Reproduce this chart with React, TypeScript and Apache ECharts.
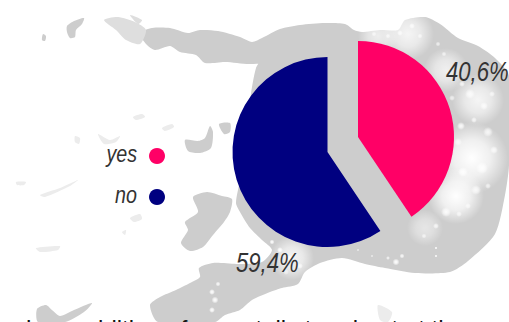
import React, { useEffect, useRef } from "react";
import * as echarts from "echarts";

const categories = ["yes", "no"];
const shares = [40.6, 59.4];
const sliceColors = ["#ff0066", "#000080"];
const footerText = "how addition of more tells to advert at the";

const mapGrey = "#cdcdcd";

type Pt = [number, number];
type Blob = [number, number, number, number];

// Backdrop map: solid land areas.
const land: Pt[][] = [
  // far north-west island
  [[67, 26], [74, 21], [84, 18], [82, 24], [76, 30], [75, 37], [70, 38], [67, 32]],
  [[43, 34], [46, 36], [45, 41], [42, 40]],
  // northern coast running into the main mass
  [[140, 33], [152, 28], [170, 28], [188, 33], [200, 30], [218, 31], [240, 37], [252, 42], [262, 38], [280, 29], [300, 25], [325, 23], [345, 24], [354, 30], [362, 32], [380, 30], [398, 30], [405, 20], [425, 17], [440, 24], [458, 38], [478, 46], [495, 58], [509, 76], [509, 165], [505, 195], [495, 234], [468, 261], [450, 272], [415, 273], [385, 268], [365, 264], [342, 258], [320, 263], [305, 272], [298, 284], [282, 288], [270, 292], [252, 300], [240, 310], [225, 315], [215, 322], [158, 322], [150, 305], [160, 297], [176, 290], [190, 283], [200, 277], [199, 268], [213, 263], [237, 264], [262, 262], [272, 250], [262, 240], [250, 228], [240, 212], [236, 203], [240, 180], [245, 140], [250, 100], [256, 68], [262, 60], [278, 56], [300, 56], [320, 58], [318, 60], [250, 64], [225, 62], [205, 63], [196, 55], [180, 52], [170, 46], [155, 50], [146, 44]],
  // bay peninsula beside the lower left of the disc
  [[193, 197], [207, 192], [222, 196], [232, 199], [230, 212], [224, 222], [213, 235], [203, 247], [190, 251], [181, 243], [188, 230], [185, 222], [198, 212]],
  // islets above the legend
  [[185, 140], [198, 141], [205, 138], [210, 126], [213, 132], [211, 148], [200, 153], [188, 151]],
  [[219, 124], [230, 123], [230, 132], [224, 134]],
  // south-western island at the bottom edge
  [[37, 309], [46, 305], [52, 310], [60, 316], [74, 310], [92, 303], [84, 312], [65, 322], [38, 322]],
];

// Speckled fringe of the northern coast.
const fringe: Pt[][] = [
  [[104, 20], [118, 17], [135, 22], [146, 30], [140, 44], [126, 40], [116, 30]],
  [[130, 15], [142, 20], [138, 24]],
];

// Thin, barely visible coast fragments on the white side.
const faint: Pt[][] = [
  [[133, 117], [142, 114], [145, 117], [136, 120]],
  [[162, 128], [172, 124], [174, 127], [165, 131]],
  [[40, 195], [60, 188], [78, 180], [70, 186], [45, 197]],
  [[130, 218], [140, 214], [142, 219], [134, 222]],
  [[122, 232], [126, 230], [125, 235]],
  [[75, 136], [80, 138], [79, 144], [75, 142]],
  [[98, 134], [110, 140], [120, 136], [116, 142], [104, 144]],
  [[16, 182], [26, 182], [24, 185], [17, 185]],
  [[36, 248], [60, 246], [58, 250], [40, 252]],
  [[378, 305], [392, 312], [388, 322], [380, 320]],
];

// Broad pale washes over the land: centre x, centre y, radius, strength.
const washes: Blob[] = [
  [472, 158, 36, 1],
  [456, 196, 28, 1],
  [478, 100, 26, 0.8],
  [408, 34, 26, 0.8],
  [378, 36, 20, 0.65],
  [446, 70, 22, 0.7],
  [292, 258, 22, 0.8],
  [425, 228, 18, 0.5],
];

// Small bright flecks scattered across the washes.
const flecks: Blob[] = [
  [461, 126, 4, 0.9], [474, 120, 3, 0.8], [488, 132, 5, 0.8], [494, 150, 4, 0.8],
  [482, 168, 6, 0.9], [463, 172, 5, 0.9], [458, 142, 4, 0.8], [476, 190, 5, 0.8],
  [488, 186, 3, 0.7], [446, 212, 5, 0.9], [436, 226, 3, 0.8], [459, 214, 3, 0.7],
  [468, 206, 3, 0.7], [424, 236, 2.5, 0.7], [470, 94, 5, 0.8], [484, 106, 4, 0.8],
  [462, 84, 3, 0.8], [492, 94, 3, 0.7], [452, 98, 3, 0.7], [444, 54, 2.5, 0.7],
  [438, 44, 2.5, 0.7], [412, 26, 3, 0.8], [400, 33, 3, 0.8], [420, 36, 2.5, 0.7],
  [388, 36, 2.5, 0.7], [374, 34, 2.5, 0.7], [396, 262, 3.5, 1], [402, 256, 2.5, 0.9],
  [388, 258, 2, 0.8], [436, 248, 1.5, 1], [436, 256, 1.5, 1], [272, 242, 2.5, 1],
  [280, 250, 3, 1], [290, 258, 3, 0.9], [300, 266, 3, 0.8], [286, 272, 3, 0.6],
  [212, 292, 3, 1], [215, 300, 3.5, 1], [212, 310, 3, 1], [218, 284, 2.5, 0.9],
  [358, 250, 1.5, 0.6], [372, 256, 1.5, 0.6],
];

const polygons = (groups: Pt[][], fill: string, z: number) =>
  groups.map((points) => ({
    type: "polygon",
    silent: true,
    z,
    shape: { points, smooth: 0.25 },
    style: { fill },
  }));

const softCircles = (blobs: Blob[], z: number) =>
  blobs.map(([cx, cy, r, a]) => ({
    type: "circle",
    silent: true,
    z,
    shape: { cx, cy, r },
    style: {
      fill: new echarts.graphic.RadialGradient(0.5, 0.5, 0.5, [
        { offset: 0, color: `rgba(255,255,255,${a})` },
        { offset: 0.5, color: `rgba(255,255,255,${a * 0.7})` },
        { offset: 1, color: "rgba(255,255,255,0)" },
      ]),
    },
  }));

const toComma = (v: number) => `${v.toFixed(1).replace(".", ",")}%`;

// Condensed italic caption: the installed sans is narrowed horizontally.
const caption = (text: string, x: number, y: number, size: number, align: string) => ({
  type: "text",
  silent: true,
  z: 20,
  x,
  y,
  scaleX: 0.82,
  style: {
    text,
    align,
    verticalAlign: "middle",
    fill: "#333333",
    font: `italic ${size}px 'Liberation Sans', sans-serif`,
  },
});

export default function App() {
  const ref = useRef<HTMLDivElement>(null);

  useEffect(() => {
    document.body.style.margin = "0";
    const chart = echarts.init(ref.current!, undefined, { renderer: "svg" });
    const yesSweep = (shares[0] / (shares[0] + shares[1])) * 360;

    chart.setOption({
      animation: false,
      backgroundColor: "#ffffff",
      legend: {
        orient: "vertical",
        left: 144,
        top: 143,
        itemWidth: 16,
        itemHeight: 16,
        itemGap: 25,
        icon: "circle",
        data: categories,
        formatter: () => "",
      },
      graphic: [
        ...polygons(land, mapGrey, -10),
        ...polygons(fringe, "#dedede", -10),
        ...polygons(faint, "#ececec", -10),
        ...softCircles(washes, -9),
        ...softCircles(flecks, -8),
        {
          type: "text",
          silent: true,
          z: -5,
          x: 26,
          y: 316,
          style: {
            text: footerText,
            font: "24px 'Liberation Sans', sans-serif",
            fill: "#111111",
          },
        },
        caption(categories[0], 137, 154, 24, "right"),
        caption(categories[1], 137, 195, 24, "right"),
        caption(toComma(shares[0]), 446, 72, 27, "left"),
        caption(toComma(shares[1]), 236, 263, 27, "left"),
      ],
      series: [
        {
          type: "pie",
          center: [358, 137],
          radius: [0, 96],
          startAngle: 90,
          endAngle: 90 - yesSweep,
          label: { show: false },
          labelLine: { show: false },
          data: [
            { name: categories[0], value: shares[0], itemStyle: { color: sliceColors[0] } },
          ],
        },
        {
          type: "pie",
          center: [327.5, 152],
          radius: [0, 95],
          startAngle: 90 - yesSweep,
          endAngle: -270,
          label: { show: false },
          labelLine: { show: false },
          data: [
            { name: categories[1], value: shares[1], itemStyle: { color: sliceColors[1] } },
          ],
        },
      ],
    });
    return () => chart.dispose();
  }, []);

  return (
    <div
      ref={ref}
      style={{ position: "fixed", left: 0, top: 0, width: 509, height: 322, overflow: "hidden" }}
    />
  );
}
